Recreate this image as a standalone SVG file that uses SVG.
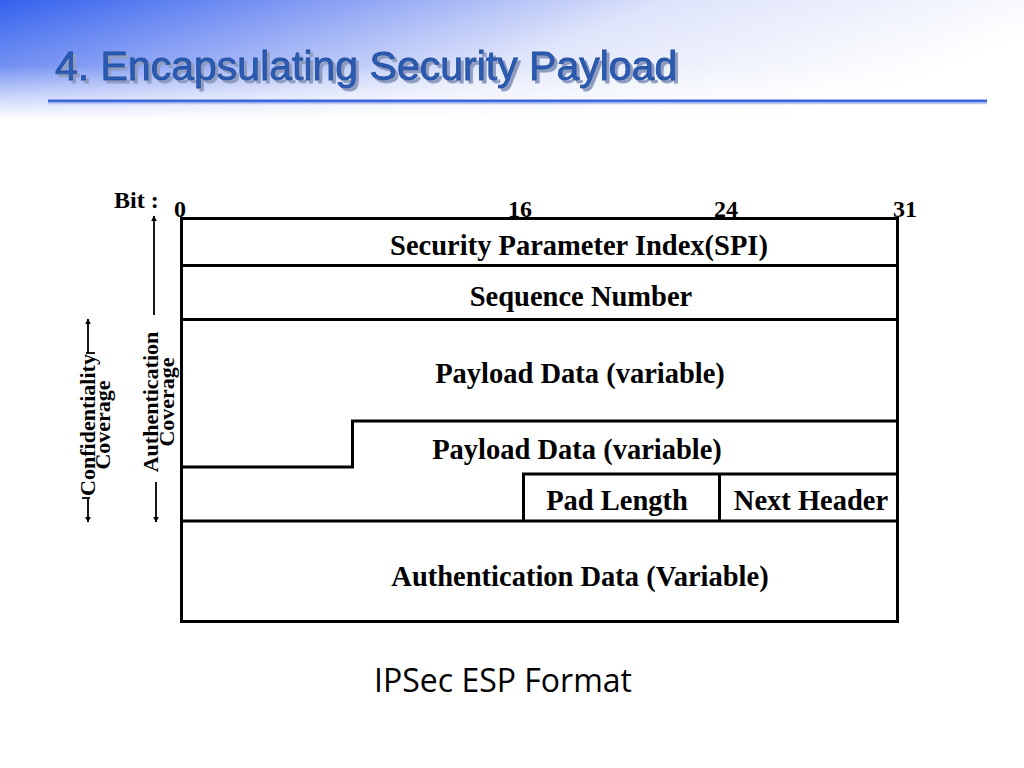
<svg xmlns="http://www.w3.org/2000/svg" width="1024" height="768" viewBox="0 0 1024 768">
<defs>
<linearGradient id="hdr" x1="0" y1="0" x2="1" y2="0.3">
<stop offset="0" stop-color="#3361ee"/>
<stop offset="0.3" stop-color="#889ff4"/>
<stop offset="0.6" stop-color="#dde3fa"/>
<stop offset="1" stop-color="#ffffff"/>
</linearGradient>
<linearGradient id="fade" x1="0" y1="0" x2="0" y2="1">
<stop offset="0" stop-color="#ffffff" stop-opacity="0"/>
<stop offset="0.55" stop-color="#ffffff" stop-opacity="0.12"/>
<stop offset="1" stop-color="#ffffff" stop-opacity="1"/>
</linearGradient>
<filter id="shadow" x="-5%" y="-20%" width="110%" height="150%">
<feOffset in="SourceAlpha" dx="2.5" dy="2.5" result="o"/>
<feFlood flood-color="#8d9cc0"/>
<feComposite in2="o" operator="in" result="s"/>
<feMerge><feMergeNode in="s"/><feMergeNode in="SourceGraphic"/></feMerge>
</filter>
<marker id="ah" viewBox="0 0 10 10" refX="9" refY="5" markerWidth="6" markerHeight="6" orient="auto-start-reverse" markerUnits="userSpaceOnUse">
<path d="M0,0 L10,5 L0,10 z" fill="#000"/>
</marker>
</defs>
<style>
.ln{stroke:#000;stroke-width:3;fill:none}
.thin{stroke:#000;stroke-width:1.8;fill:none}
.fld{font-family:"Liberation Serif","Times New Roman",serif;font-weight:bold;font-size:28.5px;fill:#000;text-anchor:middle}
.bit{font-family:"Liberation Serif","Times New Roman",serif;font-weight:bold;font-size:24px;fill:#000}
.side{font-family:"Liberation Serif","Times New Roman",serif;font-weight:bold;font-size:22px;fill:#000;text-anchor:middle}
.ttl{font-family:"Liberation Sans",Arial,sans-serif;font-size:41px}
</style>
<rect width="1024" height="768" fill="#ffffff"/>
<rect width="1024" height="120" fill="url(#hdr)"/>
<rect width="1024" height="120" fill="url(#fade)"/>
<g id="title">
<text class="ttl" x="55" y="80" fill="#2b5cb4" stroke="#1f4c9c" stroke-width="0.8" filter="url(#shadow)">4. Encapsulating Security Payload</text>
<line x1="48" y1="101" x2="987" y2="101" stroke="#3f66d8" stroke-width="3"/>
<line x1="48" y1="103.5" x2="987" y2="103.5" stroke="#b8c7f2" stroke-width="1.5"/>
</g>
<g id="bits">
<text class="bit" x="114" y="208">Bit :</text>
<text class="bit" x="174" y="217">0</text>
<text class="bit" x="520" y="217" text-anchor="middle">16</text>
<text class="bit" x="726" y="217" text-anchor="middle">24</text>
<text class="bit" x="905" y="217" text-anchor="middle">31</text>
</g>
<g id="frame">
<rect x="181.5" y="218.5" width="716" height="403" class="ln"/>
<line x1="181" y1="265.5" x2="898" y2="265.5" class="ln"/>
<line x1="181" y1="319.5" x2="898" y2="319.5" class="ln"/>
<polyline points="181,467 352.5,467 352.5,421 898,421" class="ln"/>
<polyline points="523.5,521 523.5,474 898,474" class="ln"/>
<line x1="719.5" y1="474" x2="719.5" y2="521" class="ln"/>
<line x1="181" y1="521" x2="898" y2="521" class="ln"/>
</g>
<g id="spi"><text class="fld" x="579" y="255">Security Parameter Index(SPI)</text></g>
<g id="seq"><text class="fld" x="581" y="306">Sequence Number</text></g>
<g id="payload1"><text class="fld" x="580" y="383">Payload Data (variable)</text></g>
<g id="payload2"><text class="fld" x="577" y="459">Payload Data (variable)</text></g>
<g id="padlen"><text class="fld" x="617" y="510">Pad Length</text></g>
<g id="nexthdr"><text class="fld" x="811" y="510">Next Header</text></g>
<g id="authdata"><text class="fld" x="580" y="586">Authentication Data (Variable)</text></g>
<g id="connectors">
<line x1="88" y1="353" x2="88" y2="319" class="thin" marker-end="url(#ah)"/>
<line x1="86" y1="353" x2="95" y2="353" class="thin"/>
<line x1="88" y1="498" x2="88" y2="522" class="thin" marker-end="url(#ah)"/>
<line x1="82" y1="498" x2="90" y2="498" class="thin"/>
<line x1="154" y1="315" x2="154" y2="216" class="thin" marker-end="url(#ah)"/>
<line x1="156" y1="482" x2="156" y2="522" class="thin" marker-end="url(#ah)"/>
</g>
<g id="conf-label">
<text class="side" transform="translate(95,425) rotate(-90)">Confidentiality</text>
<text class="side" transform="translate(110,425) rotate(-90)">Coverage</text>
</g>
<g id="auth-label">
<text class="side" transform="translate(158,402) rotate(-90)">Authentication</text>
<text class="side" transform="translate(174,402) rotate(-90)">Coverage</text>
</g>
<g id="caption">
<text x="503" y="692" font-family="Open Sans, Noto Sans, sans-serif" font-size="32" fill="#000" text-anchor="middle">IPSec ESP Format</text>
</g>
</svg>
